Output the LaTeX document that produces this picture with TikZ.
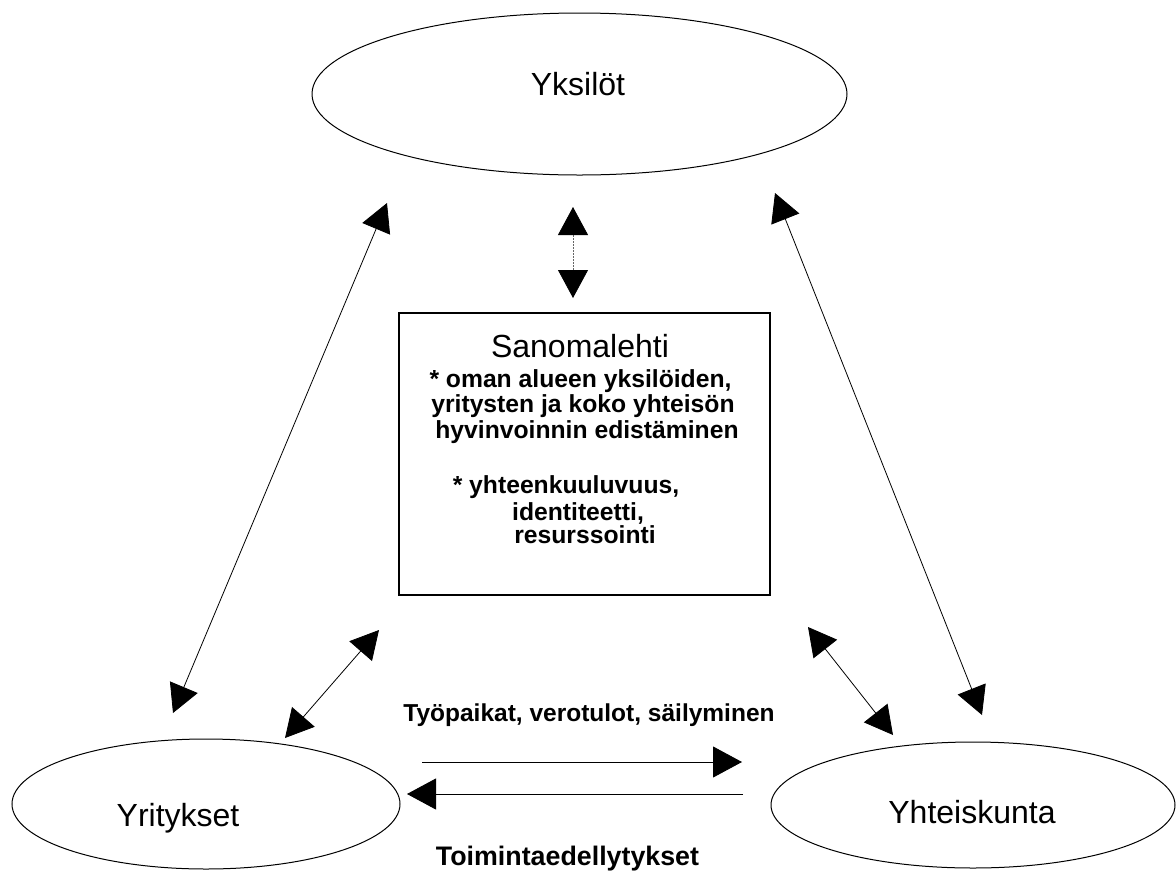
\documentclass[tikz,border=0pt]{standalone}
\usepackage{fontspec}
\setmainfont{Liberation Sans}
\usetikzlibrary{arrows.meta,shapes.geometric}

\begin{document}
\begin{tikzpicture}[x=1pt,y=-1pt,
  bubble/.style={draw, ellipse, line width=1pt, inner sep=0pt},
  panel/.style={draw, rectangle, line width=1.1pt, inner sep=0pt},
  biglabel/.style={inner sep=0pt, anchor=base, font=\fontsize{32}{36}\selectfont},
  boxline/.style={inner sep=0pt, anchor=base, font=\bfseries\fontsize{24.7}{27}\selectfont},
  flowlabel/.style={inner sep=0pt, anchor=base, font=\bfseries\fontsize{#1}{28}\selectfont},
  link/.style={line width=0.8pt, {Triangle[length=28pt,width=30pt,color=black]}-{Triangle[length=28pt,width=30pt,color=black]}},
  oneway/.style={line width=0.9pt, -{Triangle[length=29pt,width=31pt]}}]
\useasboundingbox (0,0) rectangle (1176,871);

% the three actors
\node[bubble, minimum width=535pt, minimum height=162pt] (yksilot) at (579.5,94) {};
\node[biglabel] (yksilotT) at (578,95) {Yksilöt};

\node[bubble, minimum width=388pt, minimum height=130pt] (yritykset) at (206,804) {};
\node[biglabel] (yrityksetT) at (178,826) {Yritykset};

\node[bubble, minimum width=404pt, minimum height=126pt] (yhteiskunta) at (973,805) {};
\node[biglabel] (yhteiskuntaT) at (972,823) {Yhteiskunta};

% the newspaper in the middle
\node[panel, minimum width=371pt, minimum height=282pt] (lehti) at (584.5,454) {};
\node[biglabel] (lehtiT) at (580,357) {Sanomalehti};
\node[boxline] (r1) at (580.5,387) {* oman alueen yksilöiden,};
\node[boxline] (r2) at (583,412) {yritysten ja koko yhteisön};
\node[boxline] (r3) at (587,438) {hyvinvoinnin edistäminen};
\node[boxline] (r4) at (566,493) {* yhteenkuuluvuus,};
\node[boxline] (r5) at (578,520) {identiteetti,};
\node[boxline] (r6) at (585,543) {resurssointi};

% arrow end points
\coordinate (a1) at (387,203);  \coordinate (a2) at (173,713);
\coordinate (b1) at (573,207);  \coordinate (b2) at (573,298);
\coordinate (c1) at (775,193);  \coordinate (c2) at (982,715);
\coordinate (d1) at (379,630);  \coordinate (d2) at (285,738);
\coordinate (e1) at (808,627);  \coordinate (e2) at (893,735);
\coordinate (f1) at (422,762);  \coordinate (f2) at (742,762);
\coordinate (g1) at (743,794);  \coordinate (g2) at (407,794);

\draw[link] (a1) -- (a2);
\draw[link, draw=black!60, dash pattern=on 2pt off 1pt] (b1) -- (b2);
\draw[link] (c1) -- (c2);
\draw[link] (d1) -- (d2);
\draw[link] (e1) -- (e2);

% exchange between companies and society
\draw[oneway] (f1) -- (f2);
\draw[oneway] (g1) -- (g2);
\node[flowlabel=24.5] (tuotto) at (589,721) {Työpaikat, verotulot, säilyminen};
\node[flowlabel=26.8] (edellytys) at (567.5,865) {Toimintaedellytykset};
\end{tikzpicture}
\end{document}
